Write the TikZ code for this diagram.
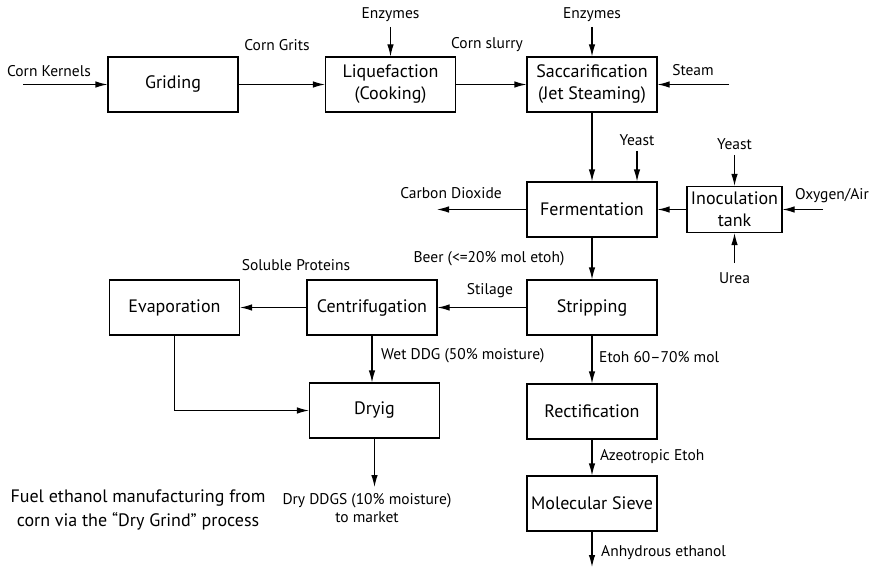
\documentclass[tikz,border=0pt]{standalone}
\usepackage{fontspec}
\setmainfont{PT Sans}
\usetikzlibrary{arrows.meta,positioning}

\begin{document}
\begin{tikzpicture}[x=1pt,y=-1pt,
          every node/.style={font=\fontsize{15.5}{18}\selectfont,inner sep=1pt},
          proc/.style={rectangle,draw,line width=1.1pt,minimum width=130pt,
              minimum height=55pt,align=center,font=\fontsize{18}{22}\selectfont},
          flow/.style={-{Latex[length=12pt,width=6.5pt]},line width=1.1pt}]
        \useasboundingbox (0,0) rectangle (870,567);
        % process units
        \node[proc] (grind) at (173,84.5) {Griding};
        \node[proc] (liq) at (390.5,84.5) {Liquefaction\\(Cooking)};
        \node[proc] (sacc) at (592,84.5) {Saccarification\\(Jet Steaming)};
        \node[proc] (ferm) at (592,209.5) {Fermentation};
        \node[proc,minimum width=95pt,minimum height=46pt] (inoc) at (734.5,209.5)
          {Inoculation\\tank};
        \node[proc] (strip) at (592,307.5) {Stripping};
        \node[proc] (centr) at (372,307.5) {Centrifugation};
        \node[proc] (evap) at (174.5,307.5) {Evaporation};
        \node[proc] (dry) at (374.5,410.5) {Dryig};
        \node[proc] (rect) at (592,411.5) {Rectification};
        \node[proc] (sieve) at (592,503.5) {Molecular Sieve};

        % free ends
        \coordinate (kernels) at (23,84.5);
        \coordinate (enzA) at (390.5,27);
        \coordinate (enzB) at (592,27);
        \coordinate (steam) at (729,84.5);
        \coordinate (yeastA) at (637,151);
        \coordinate (yeastB) at (734.5,155);
        \coordinate (oxy) at (823,209.5);
        \coordinate (urea) at (734.5,263);
        \coordinate (co2) at (437,209.5);
        \coordinate (market) at (374.5,487);
        \coordinate (anhyd) at (592,567);

        % stream labels
        \node (kernelsLbl) at (49,71) {Corn Kernels};
        \node (gritsLbl) at (277,45) {Corn Grits};
        \node (slurryLbl) at (487,45) {Corn slurry};
        \node (enzALbl) at (390.5,15) {Enzymes};
        \node (enzBLbl) at (592,15) {Enzymes};
        \node (steamLbl) at (693,70) {Steam};
        \node (yeastALbl) at (637,140) {Yeast};
        \node (yeastBLbl) at (734.5,144) {Yeast};
        \node (oxyLbl) at (832,196) {Oxygen/Air};
        \node (ureaLbl) at (734.5,278) {Urea};
        \node (co2Lbl) at (451,193) {Carbon Dioxide};
        \node (beerLbl) at (489,259) {Beer (<=20\% mol etoh)};
        \node (stilLbl) at (490,291) {Stilage};
        \node (protLbl) at (296,265) {Soluble Proteins};
        \node[anchor=west] (wetLbl) at (380,356) {Wet DDG (50\% moisture)};
        \node[anchor=west] (etohLbl) at (598,357) {Etoh 60--70\% mol};
        \node[anchor=west] (azeoLbl) at (599,457) {Azeotropic Etoh};
        \node[anchor=west] (anhLbl) at (600,553) {Anhydrous ethanol};
        \node[align=center] (ddgsLbl) at (367,508) {Dry DDGS (10\% moisture)\\to market};
        \node[align=center,font=\fontsize{18}{24}\selectfont] (caption) at (138,510)
          {Fuel ethanol manufacturing from\\corn via the “Dry Grind” process};

        % main line
        \draw[flow] (kernels) -- (grind);
        \draw[flow] (grind) -- (liq);
        \draw[flow] (liq) -- (sacc);
        \draw[flow] (enzA) -- (liq);
        \draw[flow] (enzB) -- (sacc);
        \draw[flow] (steam) -- (sacc);
        \draw[flow] (sacc) -- (ferm);
        \draw[flow] (yeastA) -- (yeastA |- ferm.north);
        \draw[flow] (yeastB) -- (inoc);
        \draw[flow] (oxy) -- (inoc);
        \draw[flow] (urea) -- (inoc);
        \draw[flow] (inoc) -- (ferm);
        \draw[flow] (ferm) -- (co2);
        \draw[flow] (ferm) -- (strip);
        \draw[flow] (strip) -- (centr);
        \draw[flow] (centr) -- (evap);
        \draw[flow] (centr) -- (centr |- dry.north);
        \draw[flow] (evap.south) |- (dry.west);
        \draw[flow] (dry) -- (market);
        \draw[flow] (strip) -- (rect);
        \draw[flow] (rect) -- (sieve);
        \draw[flow] (sieve) -- (anhyd);
      \end{tikzpicture}
\end{document}
